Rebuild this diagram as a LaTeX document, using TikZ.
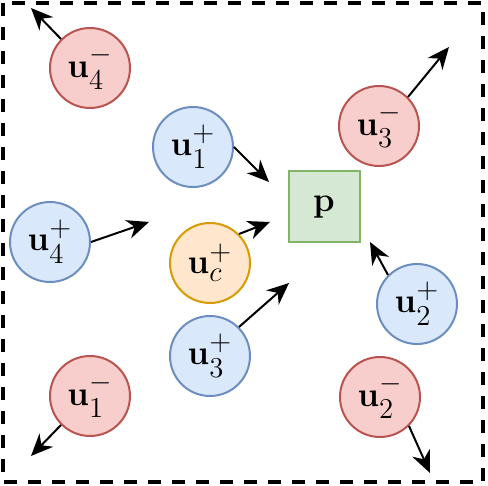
\documentclass[tikz,border=0pt]{standalone}
\usepackage{amsmath,amssymb}
\usepackage{xcolor}
\usepackage{tikz}
\usetikzlibrary{arrows.meta}

\definecolor{redfill}{HTML}{F8CECC}
\definecolor{reddraw}{HTML}{B85450}
\definecolor{bluefill}{HTML}{DAE8FC}
\definecolor{bluedraw}{HTML}{6C8EBF}
\definecolor{orangefill}{HTML}{FFE6CC}
\definecolor{orangedraw}{HTML}{D79B00}
\definecolor{greenfill}{HTML}{D5E8D4}
\definecolor{greendraw}{HTML}{82B366}

\tikzset{
  sample/.style={circle, minimum size=40pt, inner sep=0pt, line width=1pt, font=\fontsize{19}{22}\selectfont},
  negsample/.style={sample, draw=reddraw, fill=redfill},
  possample/.style={sample, draw=bluedraw, fill=bluefill},
  censample/.style={sample, draw=orangedraw, fill=orangefill},
  query/.style={rectangle, minimum size=35.5pt, inner sep=0pt, line width=1pt, draw=greendraw, fill=greenfill, font=\fontsize{19}{22}\selectfont},
  push/.style={-{Stealth[length=11pt,width=9.5pt,inset=3.5pt]}, line width=1pt}
}

\begin{document}
\begin{tikzpicture}[x=0.5pt,y=-0.5pt]
			\useasboundingbox (0,0) rectangle (488,486);
			\draw[line width=1.8pt, dash pattern=on 6.5pt off 5.5pt] (3,3) rectangle (483,482);
			% query point
			\node[query] (p) at (324,207) {$\mathbf{p}$};
			% positives
			\node[possample] (u1p) at (193,147) {$\mathbf{u}_1^+$};
			\node[possample] (u2p) at (417,304) {$\mathbf{u}_2^+$};
			\node[possample] (u3p) at (210,356) {$\mathbf{u}_3^+$};
			\node[possample] (u4p) at (50,242) {$\mathbf{u}_4^+$};
			\node[censample] (ucp) at (210,263) {$\mathbf{u}_c^+$};
			% negatives
			\node[negsample] (u1m) at (90,396) {$\mathbf{u}_1^-$};
			\node[negsample] (u2m) at (380,397) {$\mathbf{u}_2^-$};
			\node[negsample] (u3m) at (379,126) {$\mathbf{u}_3^-$};
			\node[negsample] (u4m) at (90,68) {$\mathbf{u}_4^-$};
			% arrow ends
			\coordinate (t1p) at (269,182);
			\coordinate (t2p) at (370,242);
			\coordinate (t3p) at (289,283);
			\coordinate (t4p) at (149,222);
			\coordinate (tcp) at (270,222);
			\coordinate (t1m) at (31,456);
			\coordinate (t2m) at (430,473);
			\coordinate (t3m) at (449,47);
			\coordinate (t4m) at (31,8);
			\draw[push] (u1p.east) -- (t1p);
			\draw[push] (u2p.north west) -- (t2p);
			\draw[push] (u3p.north east) -- (t3p);
			\draw[push] (u4p.east) -- (t4p);
			\draw[push] (ucp.north east) -- (tcp);
			\draw[push] (u1m.south west) -- (t1m);
			\draw[push] (u2m.south east) -- (t2m);
			\draw[push] (u3m.north east) -- (t3m);
			\draw[push] (u4m.north west) -- (t4m);
		\end{tikzpicture}
\end{document}
